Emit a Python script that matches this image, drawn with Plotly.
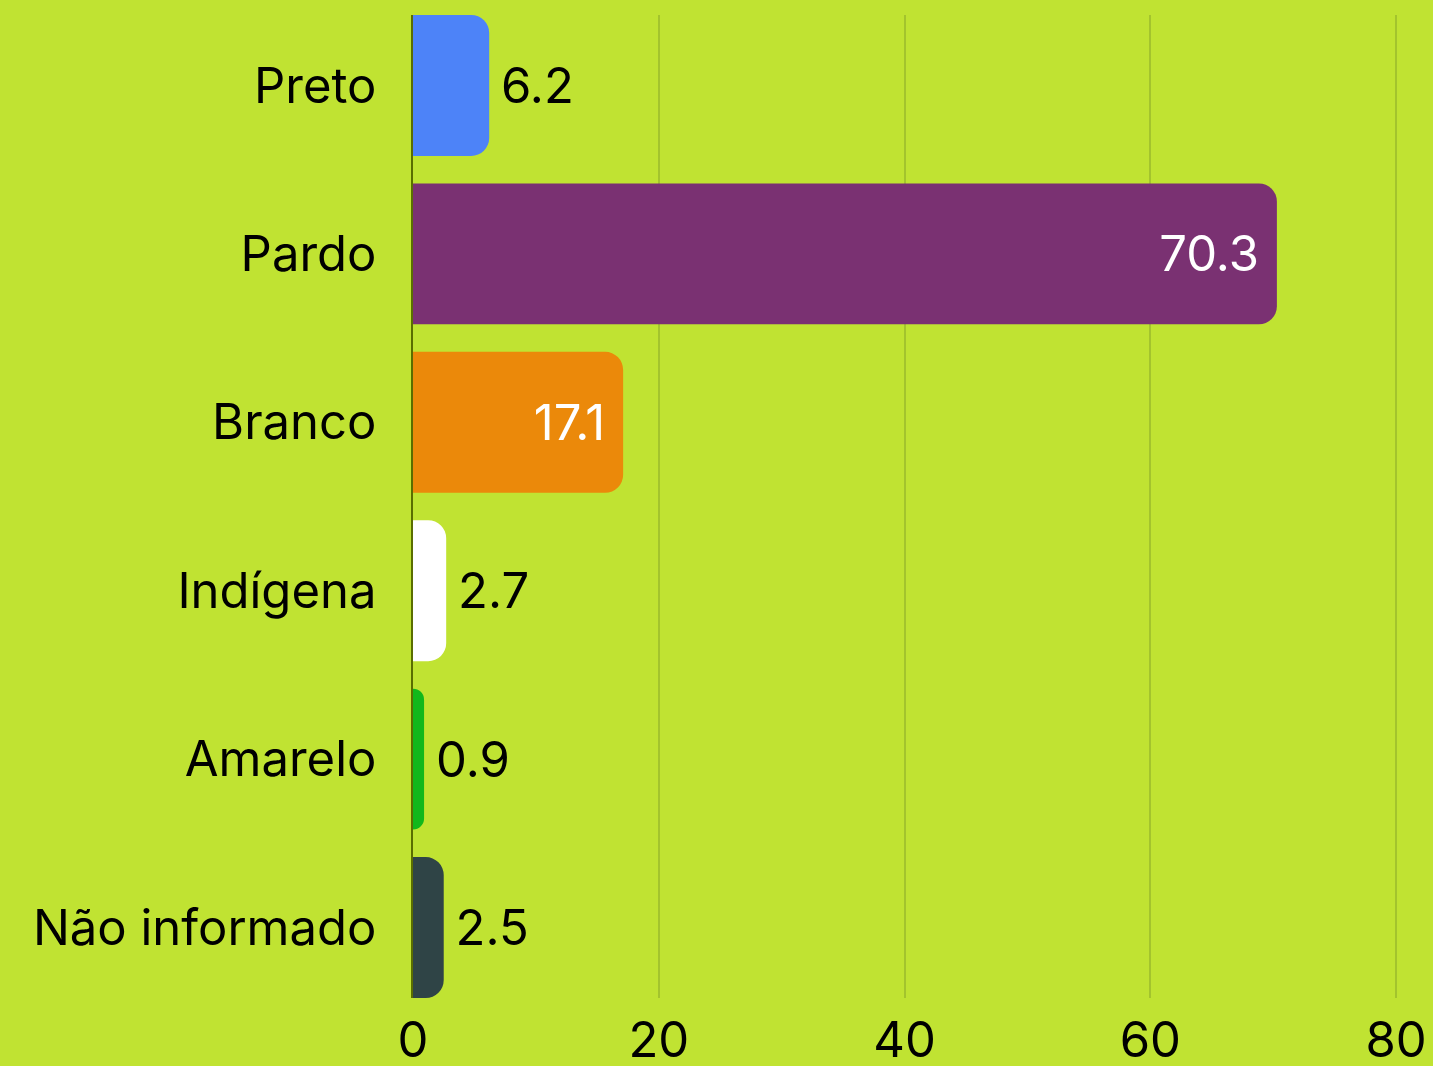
import plotly.graph_objects as go

categories = ["Preto", "Pardo", "Branco", "Indígena", "Amarelo", "Não informado"]
values = [6.2, 70.3, 17.1, 2.7, 0.9, 2.5]
colors = ["#4d83f8", "#7a3172", "#eb890a", "#ffffff", "#12b81b", "#2f4446"]
positions = ["outside", "inside", "inside", "outside", "outside", "outside"]
x_ticks = [0, 20, 40, 60, 80]

labels = [(f"\u2009{v}" if p == "outside" else f"{v}") for v, p in zip(values, positions)]

fig = go.Figure(go.Bar(
    x=values, y=categories, orientation="h",
    marker=dict(color=colors, line=dict(width=0), cornerradius=18),
    text=labels, textposition=positions,
    insidetextanchor="end",
    insidetextfont=dict(color="white", size=49, family="Inter"),
    outsidetextfont=dict(color="black", size=49, family="Inter"),
    cliponaxis=False,
))
half = (1 - 0.163) / 2
fig.update_layout(
    width=1433, height=1066,
    margin=dict(l=413, r=32, t=15, b=68, autoexpand=False),
    paper_bgcolor="#c0e332", plot_bgcolor="#c0e332",
    font=dict(family="Inter", size=49, color="black"),
    bargap=0.163, showlegend=False,
    xaxis=dict(range=[0, 80.4], tickvals=x_ticks, showgrid=True, gridcolor="#a3c42d",
               gridwidth=1.5, zeroline=False, showline=False, ticklabelstandoff=9,
               automargin=False),
    yaxis=dict(range=[5 + half, -half], showgrid=False, showline=True, linecolor="#5a6e00",
               linewidth=1.5, ticklabelstandoff=25, zeroline=False, automargin=False),
)
fig.write_html("out.html", config={"displayModeBar": False},
               post_script="document.body.style.margin='0';document.body.style.padding='0';")
